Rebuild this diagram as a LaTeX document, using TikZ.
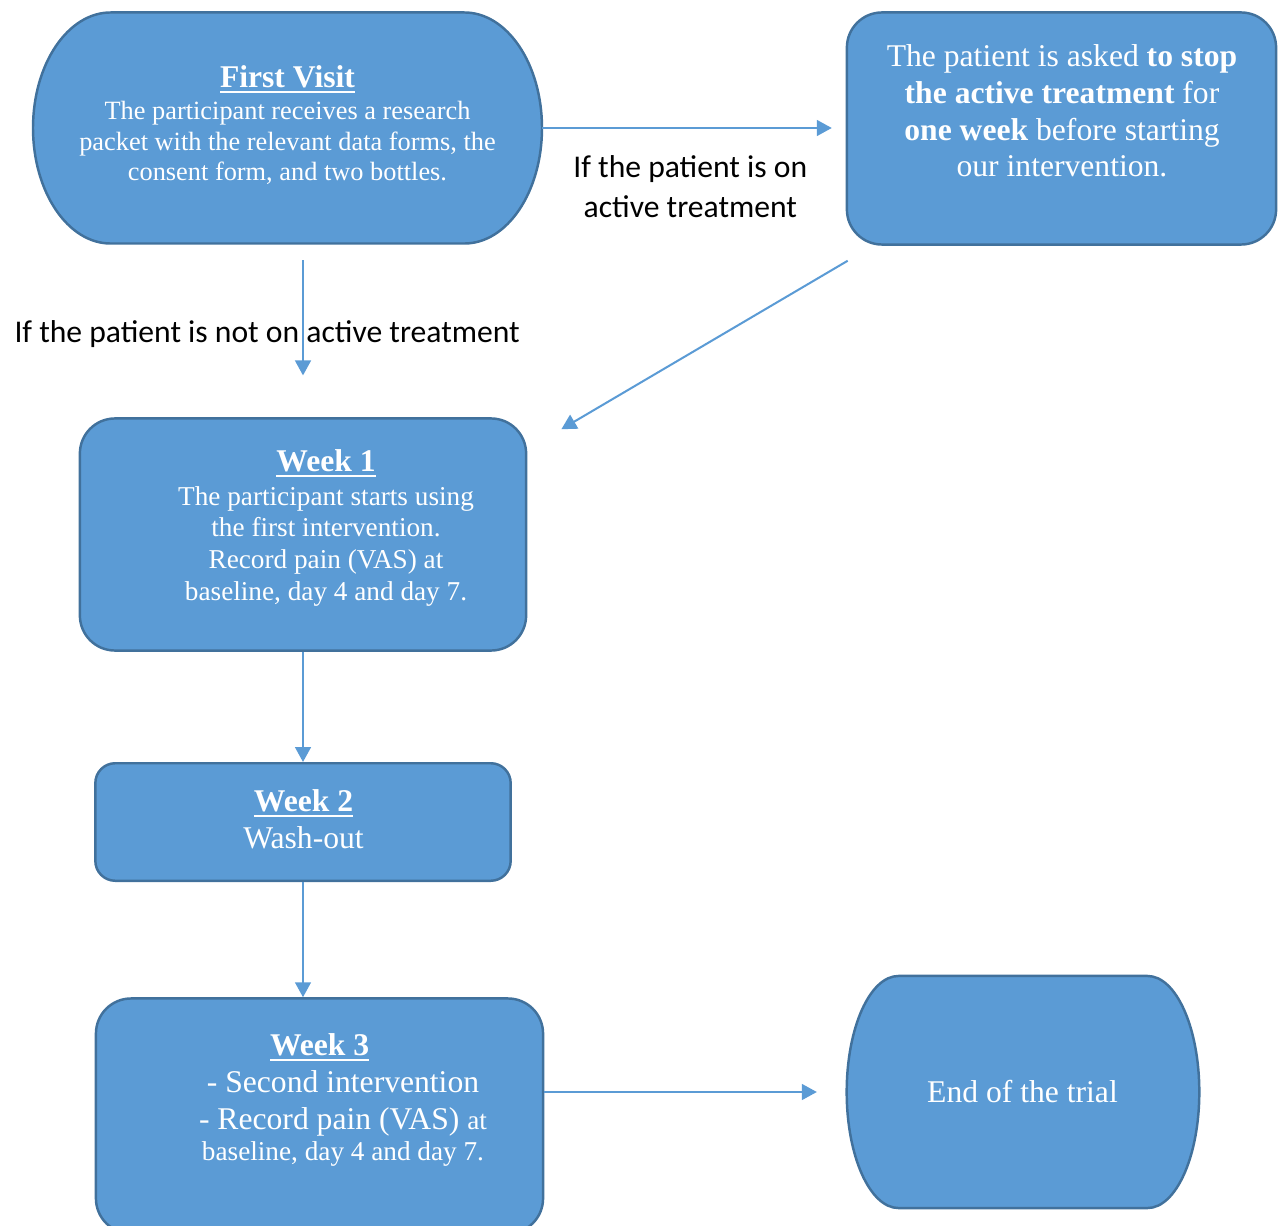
\documentclass[tikz,border=0pt]{standalone}
\usepackage{fontspec}
\setmainfont{Liberation Serif}
\newfontfamily\lblfont{Carlito}
\usetikzlibrary{arrows.meta}

\definecolor{boxblue}{HTML}{5B9BD5}
\definecolor{boxedge}{HTML}{41719C}

\newcommand\heading[1]{{\fontsize{18}{21}\selectfont\bfseries\setbox0\hbox{#1}\rlap{\rule[-3.2pt]{\wd0}{1.3pt}}\box0}}

\tikzset{
    box/.style={draw=boxedge, fill=boxblue, line width=1.4pt, rounded corners=20pt, inner sep=0pt},
    hollow/.style={inner sep=0pt, outer sep=0pt},
    oval/.style={draw=boxedge, fill=boxblue, line width=1.4pt},
    txt/.style={text=white, align=center, inner sep=0pt, anchor=north, font=\fontsize{15}{17.6}\selectfont},
    lbl/.style={text=black, align=center, inner sep=0pt, font=\lblfont\fontsize{18}{22.7}\selectfont},
    flow/.style={draw=boxblue, line width=1.15pt, -{Triangle[length=8.5pt,width=9pt]}}
}

\begin{document}
\begin{tikzpicture}[x=0.02cm, y=-0.02cm]
        \useasboundingbox (0,0) rectangle (1278,1226);

        % boxes
        \node[hollow, minimum width=289.7pt, minimum height=131.5pt](fv) at (287.5,128) {};
        \node[box, minimum width=244.3pt, minimum height=132.1pt](stop) at (1061.5,128.5) {};
        \node[box, minimum width=254pt, minimum height=132.1pt](w1) at (303,534.5) {};
        \node[box, rounded corners=11.3pt, minimum width=236.4pt, minimum height=66.9pt](w2) at (303,822) {};
        \node[box, minimum width=254.5pt, minimum height=133.8pt](w3) at (319.5,1116) {};
        \node[hollow, minimum width=200.7pt, minimum height=132.1pt](fin) at (1023,1092) {};

        \filldraw[oval] ([xshift=44.2pt]fv.north west) -- ([xshift=-44.2pt]fv.north east)
            arc[start angle=90, end angle=-90, x radius=44.2pt, y radius=65.75pt]
            -- ([xshift=44.2pt]fv.south west)
            arc[start angle=270, end angle=90, x radius=44.2pt, y radius=65.75pt] -- cycle;
        \filldraw[oval] ([xshift=29.5pt]fin.north west) -- ([xshift=-29.5pt]fin.north east)
            arc[start angle=90, end angle=-90, x radius=29.5pt, y radius=66.05pt]
            -- ([xshift=29.5pt]fin.south west)
            arc[start angle=270, end angle=90, x radius=29.5pt, y radius=66.05pt] -- cycle;

        % texts
        \node[txt](fvtxt) at (287.5,65) {\heading{First Visit}\\[0.5pt]
            The participant receives a research\\
            packet with the relevant data forms, the\\
            consent form, and two bottles.};
        \node[txt, font=\fontsize{18}{21}\selectfont](stoptxt) at (1062,44) {The patient is asked \textbf{to stop}\\
            \textbf{the active treatment} for\\
            \textbf{one week} before starting\\
            our intervention.};
        \node[txt, font=\fontsize{15.5}{18}\selectfont](w1txt) at (326,449) {\heading{Week 1}\\[1.3pt]
            The participant starts using\\
            the first intervention.\\
            Record pain (VAS) at\\
            baseline, day 4 and day 7.};
        \node[txt, font=\fontsize{18}{21}\selectfont](w2txt) at (303.5,789) {\heading{Week 2}\\
            Wash-out};
        \node[txt, font=\fontsize{18}{21}\selectfont](w3txt) at (343,1033) {\heading{Week 3}\hspace*{26.6pt}\\
            - Second intervention\\
            - Record pain (VAS) {\fontsize{15.5}{18}\selectfont at}\\[-3pt]
            {\fontsize{15.5}{18}\selectfont baseline, day 4 and day 7.}};
        \node[txt, anchor=center, font=\fontsize{18}{21}\selectfont](fintxt) at (1022.5,1092) {End of the trial};

        % connectors
        \path
            (fv.east) edge [flow, shorten >=7.9pt] node[lbl, below, yshift=-15pt, xshift=-2pt] {If the patient is on\\active treatment} (fv.east -| stop.west)
            (w1.north |- fv.south)
                edge [flow, shorten <=9.6pt, shorten >=23.8pt] node[lbl, xshift=-20.4pt, yshift=-2pt] {If the patient is not on active treatment} (w1.north)
            ([shift={(2,15)}]stop.south west)
                edge [flow] ([shift={(34,12)}]w1.north east)
            (w1.south)
                edge [flow] (w2.north)
            (w2.south)
                edge [flow] (w2.south |- w3.north)
            (w3.east |- fin.west)
                edge [flow, shorten >=17pt] (fin.west)
            ;
    \end{tikzpicture}
\end{document}
